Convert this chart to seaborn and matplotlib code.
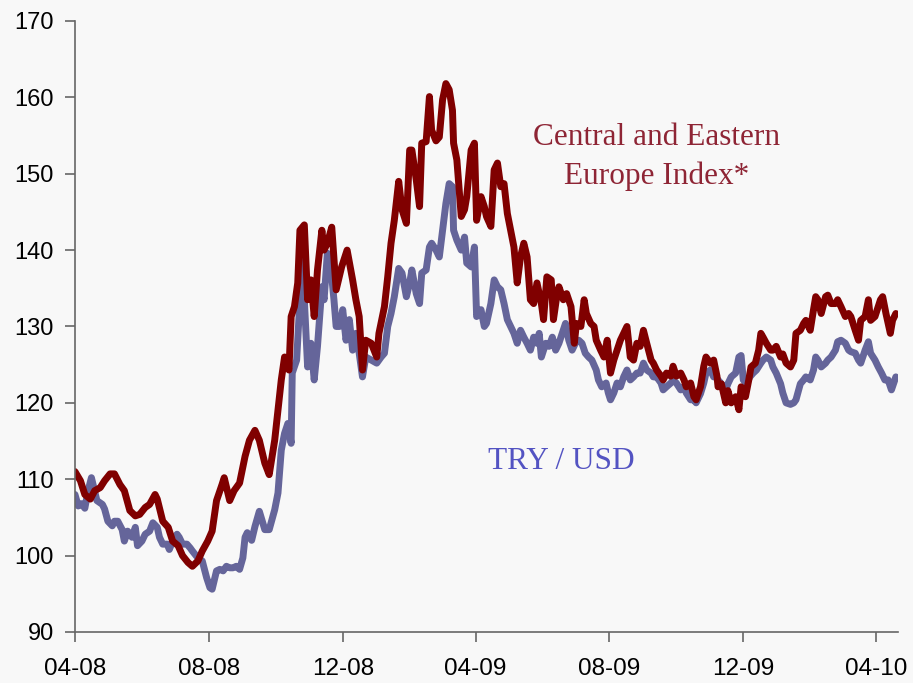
import pandas as pd
import matplotlib
matplotlib.use("Agg")
import matplotlib.pyplot as plt
import matplotlib.dates as mdates
import seaborn as sns

# Data (days counted from 1 Apr 2008)
start = pd.Timestamp("2008-04-01")

cee_days = [0, 5, 9, 14, 18, 23, 27, 32, 36, 41, 45, 50, 55, 59, 64, 68, 73, 75, 80, 85,
            89, 94, 98, 103, 107, 112, 116, 121, 125, 129, 134, 136, 141, 145, 150, 155, 159, 164, 168, 173,
            177, 182, 185, 188, 191, 195, 197, 200, 203, 205, 209, 212, 215, 218, 221, 225, 227, 230, 234, 238,
            243, 248, 253, 256, 259, 262, 265, 270, 275, 277, 282, 285, 288, 291, 295, 298, 302, 305, 307, 311,
            314, 316, 320, 323, 325, 329, 332, 335, 338, 341, 344, 345, 348, 352, 355, 357, 361, 364, 366, 370,
            373, 375, 379, 382, 385, 388, 391, 394, 397, 400, 403, 406, 409, 412, 415, 418, 421, 425, 427, 430,
            434, 436, 439, 441, 445, 448, 452, 455, 457, 461, 464, 466, 470, 473, 475, 479, 482, 485, 488, 491,
            494, 497, 500, 503, 506, 509, 512, 515, 518, 521, 525, 527, 530, 534, 536, 539, 543, 545, 548, 552,
            555, 557, 561, 564, 566, 570, 573, 575, 579, 582, 585, 586, 589, 593, 595, 598, 602, 605, 607, 611,
            614, 616, 620, 623, 625, 627, 630, 634, 636, 639, 643, 645, 648, 652, 655, 657, 661, 664, 666, 670,
            673, 675, 677, 680, 684, 686, 689, 693, 695, 698, 702, 705, 707, 711, 714, 716, 720, 723, 725, 729,
            734, 736, 739, 743, 745, 748]
cee_vals = [111.0, 109.8, 108.0, 107.4, 108.5, 108.9, 109.8, 110.7, 110.7, 109.3, 108.5, 105.9, 105.2, 105.4, 106.3, 106.7, 108.0, 107.4, 104.5, 103.7,
            101.9, 101.3, 100.0, 99.1, 98.6, 99.3, 100.6, 101.9, 103.2, 107.2, 109.3, 110.2, 107.2, 108.5, 109.5, 113.0, 115.1, 116.4, 115.1, 112.1,
            110.6, 115.1, 119.1, 123.0, 126.0, 124.3, 131.3, 132.6, 135.7, 142.6, 143.3, 133.5, 136.1, 131.3, 137.4, 142.6, 140.0, 140.9, 143.0, 134.8,
            137.8, 140.0, 136.1, 133.5, 131.3, 124.3, 128.2, 127.8, 126.0, 129.1, 132.6, 136.5, 140.9, 143.9, 149.0, 145.3, 143.5, 153.1, 153.1, 149.2,
            145.7, 154.0, 154.2, 160.1, 155.7, 154.3, 154.8, 159.7, 161.8, 161.0, 158.3, 154.0, 151.8, 144.4, 145.3, 147.0, 153.1, 154.0, 143.9, 147.0,
            145.7, 144.4, 143.1, 150.5, 151.4, 148.3, 148.7, 144.8, 142.6, 140.4, 135.7, 139.1, 140.9, 139.1, 133.5, 133.0, 135.7, 133.0, 130.9, 136.5,
            136.1, 130.9, 133.9, 135.2, 133.5, 134.3, 132.6, 127.8, 130.4, 130.0, 133.5, 131.7, 130.4, 130.0, 128.2, 126.9, 126.0, 128.2, 123.9, 125.6,
            126.9, 128.2, 129.1, 130.0, 126.0, 125.6, 127.8, 127.4, 129.5, 127.8, 125.6, 125.2, 124.3, 123.5, 123.0, 123.9, 123.5, 124.8, 123.5, 123.9,
            123.0, 122.1, 122.6, 120.8, 120.4, 122.1, 124.8, 126.0, 125.2, 125.6, 123.5, 122.1, 122.5, 120.0, 121.6, 120.0, 120.8, 119.1, 122.1, 120.8,
            123.0, 124.7, 125.2, 126.9, 129.1, 128.6, 127.8, 126.9, 126.9, 127.4, 126.0, 126.4, 125.2, 124.7, 125.6, 129.1, 129.5, 130.4, 130.8, 129.5,
            132.2, 133.9, 133.5, 131.7, 133.9, 134.1, 133.0, 133.0, 133.5, 132.6, 131.3, 131.7, 131.3, 129.5, 128.2, 130.8, 131.3, 133.5, 130.8, 131.3,
            133.5, 133.9, 131.7, 129.1, 130.8, 131.7]

try_days = [0, 3, 6, 9, 12, 15, 20, 25, 27, 30, 34, 36, 39, 43, 45, 48, 52, 55, 57, 61,
            64, 68, 71, 75, 77, 80, 84, 86, 89, 93, 95, 98, 102, 105, 107, 112, 116, 120, 123, 125,
            129, 132, 135, 138, 141, 144, 147, 150, 153, 155, 157, 161, 164, 168, 173, 177, 182, 185, 188, 191,
            194, 197, 198, 202, 205, 207, 209, 212, 215, 218, 221, 225, 227, 230, 234, 236, 238, 241, 244, 247,
            250, 253, 256, 259, 262, 265, 270, 275, 279, 282, 285, 288, 291, 295, 298, 302, 305, 307, 311, 314,
            316, 320, 323, 325, 329, 332, 335, 338, 341, 344, 345, 348, 352, 355, 357, 361, 364, 366, 370, 373,
            375, 379, 382, 385, 388, 391, 394, 397, 400, 403, 406, 409, 412, 415, 418, 421, 423, 425, 429, 432,
            435, 438, 441, 444, 447, 450, 453, 456, 459, 462, 465, 468, 471, 475, 477, 480, 484, 486, 488, 491,
            494, 497, 500, 503, 506, 509, 512, 515, 518, 521, 525, 527, 530, 534, 536, 539, 543, 545, 548, 552,
            555, 557, 561, 564, 566, 570, 573, 575, 579, 582, 584, 586, 589, 593, 595, 598, 602, 605, 607, 609,
            612, 615, 618, 621, 625, 627, 630, 634, 636, 639, 643, 645, 648, 652, 655, 657, 661, 664, 666, 670,
            673, 675, 677, 680, 684, 686, 689, 693, 695, 698, 702, 705, 707, 711, 714, 716, 720, 723, 725, 729,
            732, 735, 738, 741, 744, 747, 748]
try_vals = [108.0, 106.5, 106.8, 106.2, 108.5, 110.2, 107.2, 106.7, 106.1, 104.5, 103.9, 104.5, 104.5, 103.4, 101.9, 103.2, 102.4, 103.7, 101.3, 101.9,
            102.8, 103.2, 104.3, 103.7, 102.4, 101.5, 101.5, 100.8, 101.9, 102.8, 102.4, 101.5, 101.5, 101.0, 100.6, 99.7, 99.3, 97.1, 95.8, 95.6,
            98.0, 98.2, 98.0, 98.6, 98.4, 98.4, 98.6, 98.2, 99.7, 102.4, 103.0, 102.0, 103.8, 105.8, 103.4, 103.4, 106.0, 108.2, 113.8, 116.0,
            117.3, 114.7, 123.9, 125.6, 133.5, 139.6, 133.5, 124.7, 127.8, 123.0, 127.4, 135.2, 133.5, 139.6, 136.5, 133.5, 130.0, 130.0, 132.2, 128.2,
            130.9, 126.9, 129.1, 126.5, 123.4, 126.0, 125.6, 125.2, 126.0, 126.5, 130.0, 131.7, 133.9, 137.6, 137.0, 133.9, 135.7, 137.4, 134.3, 133.0,
            137.0, 137.4, 140.4, 140.9, 140.0, 139.1, 142.6, 146.1, 148.7, 148.3, 142.6, 141.3, 140.0, 141.7, 138.3, 137.8, 140.4, 131.3, 132.2, 130.0,
            130.4, 133.0, 136.1, 135.2, 134.8, 133.0, 130.9, 130.0, 129.1, 127.8, 129.5, 128.6, 127.8, 126.9, 128.6, 127.8, 129.1, 126.0, 127.8, 127.4,
            128.6, 126.9, 127.8, 129.1, 130.4, 128.2, 126.9, 127.8, 128.2, 127.8, 126.5, 126.0, 125.6, 124.3, 123.0, 122.1, 122.6, 121.3, 120.4, 121.3,
            122.6, 122.1, 123.4, 124.3, 123.0, 123.4, 123.9, 123.9, 125.2, 124.3, 123.9, 123.4, 123.4, 122.6, 121.7, 122.1, 122.6, 123.0, 122.6, 121.7,
            122.1, 121.3, 120.4, 120.4, 120.0, 121.2, 122.6, 123.9, 124.3, 123.4, 123.4, 123.0, 122.5, 121.7, 122.5, 123.4, 123.9, 126.0, 126.2, 123.0,
            122.5, 123.4, 123.9, 124.3, 125.2, 125.6, 126.0, 125.6, 124.7, 123.9, 122.5, 121.3, 120.0, 119.8, 120.0, 120.4, 122.5, 123.0, 123.4, 123.0,
            124.3, 126.0, 125.6, 124.7, 125.2, 125.6, 126.0, 126.9, 128.0, 128.2, 127.8, 126.9, 126.7, 126.5, 125.6, 125.2, 126.9, 128.0, 126.5, 125.6,
            124.7, 123.9, 123.0, 123.0, 121.7, 123.0, 123.4]

tick_dates = ["2008-04-01", "2008-08-01", "2008-12-01", "2009-04-01",
              "2009-08-01", "2009-12-01", "2010-04-01"]

df = pd.concat([
    pd.DataFrame({"date": start + pd.to_timedelta(try_days, unit="D"),
                  "value": try_vals, "series": "TRY / USD"}),
    pd.DataFrame({"date": start + pd.to_timedelta(cee_days, unit="D"),
                  "value": cee_vals, "series": "CEE"}),
])

sns.set_theme(style="ticks")
plt.rcParams["font.family"] = ["Liberation Sans", "DejaVu Sans"]

bg = "#f8f8f8"
fig = plt.figure(figsize=(9.13, 6.83), dpi=100, facecolor=bg)
ax = fig.add_axes([0.0821, 0.0747, 0.9015, 0.8946])
ax.set_facecolor(bg)

sns.lineplot(data=df, x="date", y="value", hue="series",
             palette={"TRY / USD": "#65659a", "CEE": "#800000"},
             linewidth=5.0, legend=False, ax=ax,
             solid_capstyle="round", solid_joinstyle="round")

ax.set_ylim(90, 170)
ax.set_yticks(range(90, 171, 10))
ax.set_xlim(start, start + pd.Timedelta(days=750))
ax.set_xticks(pd.to_datetime(tick_dates))
ax.xaxis.set_major_formatter(mdates.DateFormatter("%m-%y"))
ax.set_xlabel("")
ax.set_ylabel("")

for s in ["top", "right"]:
    ax.spines[s].set_visible(False)
for s in ["left", "bottom"]:
    ax.spines[s].set_color("#666666")
    ax.spines[s].set_linewidth(1.2)

ax.tick_params(axis="y", length=7, width=1.2, color="#666666", pad=8,
               labelsize=17, labelcolor="black")
ax.tick_params(axis="x", length=7, width=1.2, color="#666666", pad=11.5,
               labelsize=17.5, labelcolor="black")

ax.text(pd.Timestamp("2009-09-13"), 152.2, "Central and Eastern\nEurope Index*",
        ha="center", va="center", fontsize=22.5, color="#8e2535",
        family=["Liberation Serif"], linespacing=1.45)
ax.text(pd.Timestamp("2009-06-18"), 112.3, "TRY / USD",
        ha="center", va="center", fontsize=22.5, color="#5353c2",
        family=["Liberation Serif"])

plt.savefig("out.png", dpi=100, facecolor=bg)
